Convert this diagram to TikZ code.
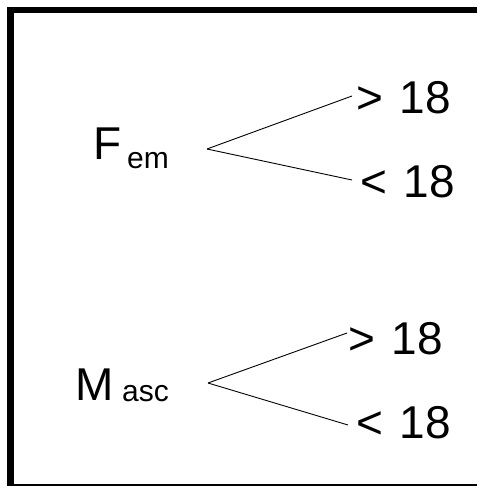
\documentclass[tikz,border=0pt]{standalone}
\usepackage{fontspec}
\setmainfont{Liberation Sans}
\begin{document}
\begin{tikzpicture}[x=1pt,y=-1pt,
  bigtxt/.style={inner sep=0pt,anchor=base west,font=\fontsize{46}{50}\selectfont},
  subtxt/.style={inner sep=0pt,anchor=base west,font=\fontsize{30}{34}\selectfont},
  branch/.style={line width=0.9pt,black}]
\useasboundingbox (0,0) rectangle (477,487);
\fill[white] (0,0) rectangle (477,487);
% frame
\fill[black] (7,7) rectangle (14,486);
\fill[black] (7,7) rectangle (477,13);
\draw[line width=1.3pt] (7,485) -- (477,485);
% labels
\node[bigtxt] (F) at (93,159) {F};
\node[subtxt] (em) at (127,168) {em};
\node[bigtxt] (M) at (75,400) {M};
\node[subtxt] (asc) at (122,401) {asc};
\node[bigtxt] (g1) at (356,113) {>\hspace{4pt} 18};
\node[bigtxt] (l1) at (360,197) {<\hspace{4pt} 18};
\node[bigtxt] (g2) at (348,354) {>\hspace{4pt} 18};
\node[bigtxt] (l2) at (356,438) {<\hspace{4pt} 18};
% branch points
\coordinate (f0) at (207,149);
\coordinate (g1e) at (352,96);
\coordinate (l1e) at (352,180);
\coordinate (m0) at (208,383);
\coordinate (g2e) at (347,333);
\coordinate (l2e) at (348,425);
\draw[branch] (f0) -- (g1e);
\draw[branch] (f0) -- (l1e);
\draw[branch] (m0) -- (g2e);
\draw[branch] (m0) -- (l2e);
\end{tikzpicture}
\end{document}
